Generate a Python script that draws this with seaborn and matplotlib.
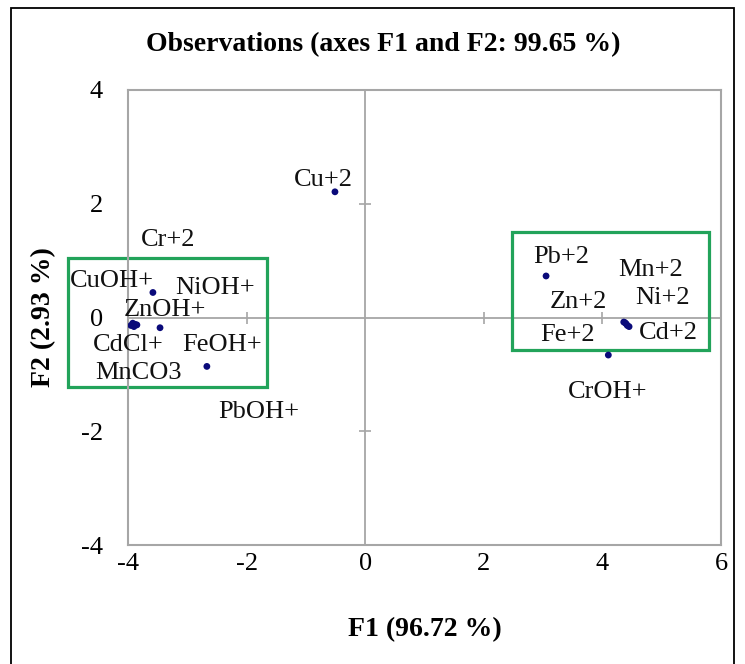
import pandas as pd
import matplotlib.pyplot as plt
import seaborn as sns
from matplotlib.patches import Rectangle

# --- observation scores on F1 / F2 ---
labels = ['Cu+2', 'Cr+2', 'NiOH+', 'PbOH+', 'CuOH+', 'ZnOH+', 'CdCl+', 'MnCO3', 'FeOH+',
          'Pb+2', 'CrOH+', 'Mn+2', 'Ni+2', 'Zn+2', 'Fe+2', 'Cd+2']
f1 = [-0.51, -3.58, -3.46, -2.67, -3.92, -3.88, -3.95, -3.85, -3.90,
      3.05, 4.10, 4.38, 4.40, 4.36, 4.42, 4.45]
f2 = [2.21, 0.44, -0.18, -0.86, -0.10, -0.12, -0.14, -0.13, -0.16,
      0.73, -0.66, -0.09, -0.11, -0.08, -0.14, -0.16]

# where the labels sit (data units)
label_x = [-0.71, -3.32, -2.53, -1.80, -4.27, -3.37, -4.00, -3.83, -2.41,
           3.31, 4.08, 4.82, 5.01, 3.59, 3.41, 5.11]
label_y = [2.42, 1.36, 0.52, -1.66, 0.64, 0.13, -0.48, -0.98, -0.48,
           1.06, -1.31, 0.83, 0.34, 0.27, -0.31, -0.27]

ticks_x = [-4, -2, 0, 2, 4, 6]
ticks_y = [-4, -2, 0, 2, 4]

df = pd.DataFrame({'label': labels, 'F1': f1, 'F2': f2})

sns.set_style('white')
plt.rcParams['font.family'] = ['Liberation Serif', 'DejaVu Serif']
plt.rcParams['text.color'] = 'black'
plt.rcParams['axes.labelcolor'] = 'black'
plt.rcParams['xtick.color'] = 'black'
plt.rcParams['ytick.color'] = 'black'

fig = plt.figure(figsize=(7.45, 6.64), dpi=100)
ax = fig.add_axes([128 / 745, 1 - 545 / 664, (721 - 128) / 745, (545 - 90) / 664])

# centre axes lines
ax.axhline(0, color='#a6a6a6', lw=1.3, zorder=1)
ax.axvline(0, color='#a6a6a6', lw=1.3, zorder=1)
inner_x = [t for t in ticks_x if t not in (0, ticks_x[0], ticks_x[-1])]
inner_y = [t for t in ticks_y if t not in (0, ticks_y[0], ticks_y[-1])]
ax.plot(inner_x, [0] * len(inner_x), ls='none', marker='|', ms=9, mew=1.2, color='#a6a6a6', zorder=1)
ax.plot([0] * len(inner_y), inner_y, ls='none', marker='_', ms=9, mew=1.2, color='#a6a6a6', zorder=1)

sns.scatterplot(data=df, x='F1', y='F2', color='#0a0a7a', s=24, edgecolor='none', ax=ax, zorder=3)

for lab, lx, ly in zip(labels, label_x, label_y):
    ax.text(lx, ly, lab, fontsize=19, ha='center', va='center', color='#111111', zorder=4)

# groups
ax.add_patch(Rectangle((-5.01, -1.22), 3.36, 2.27, fill=False, ec='#22a35a', lw=2.3,
                       clip_on=False, zorder=2))
ax.add_patch(Rectangle((2.48, -0.57), 3.32, 2.07, fill=False, ec='#22a35a', lw=2.3,
                       clip_on=False, zorder=2))

ax.set_xlim(-4, 6)
ax.set_ylim(-4, 4)
ax.set_xticks(ticks_x)
ax.set_yticks(ticks_y)
ax.set_xticklabels([str(t) for t in ticks_x])
ax.set_yticklabels([str(t) for t in ticks_y])
ax.tick_params(axis='x', length=0, pad=6, labelsize=19)
ax.tick_params(axis='y', length=0, pad=18, labelsize=19)
for sp in ax.spines.values():
    sp.set_color('#a6a6a6')
    sp.set_linewidth(1.5)

fig.suptitle('Observations (axes F1 and F2: 99.65 %)', x=383 / 745, y=1 - 45 / 664,
             va='center', fontsize=20, fontweight='bold')
ax.set_xlabel('F1 (96.72 %)', fontsize=20, fontweight='bold', labelpad=30)
ax.set_ylabel('F2 (2.93 %)', fontsize=20, fontweight='bold', labelpad=18)

# outer frame
fig.patches.append(Rectangle((11 / 745, -0.05), (734 - 11) / 745, 1.05 - 8 / 664,
                             transform=fig.transFigure, fill=False, ec='black', lw=1.3))

fig.savefig('out.png', dpi=100)
